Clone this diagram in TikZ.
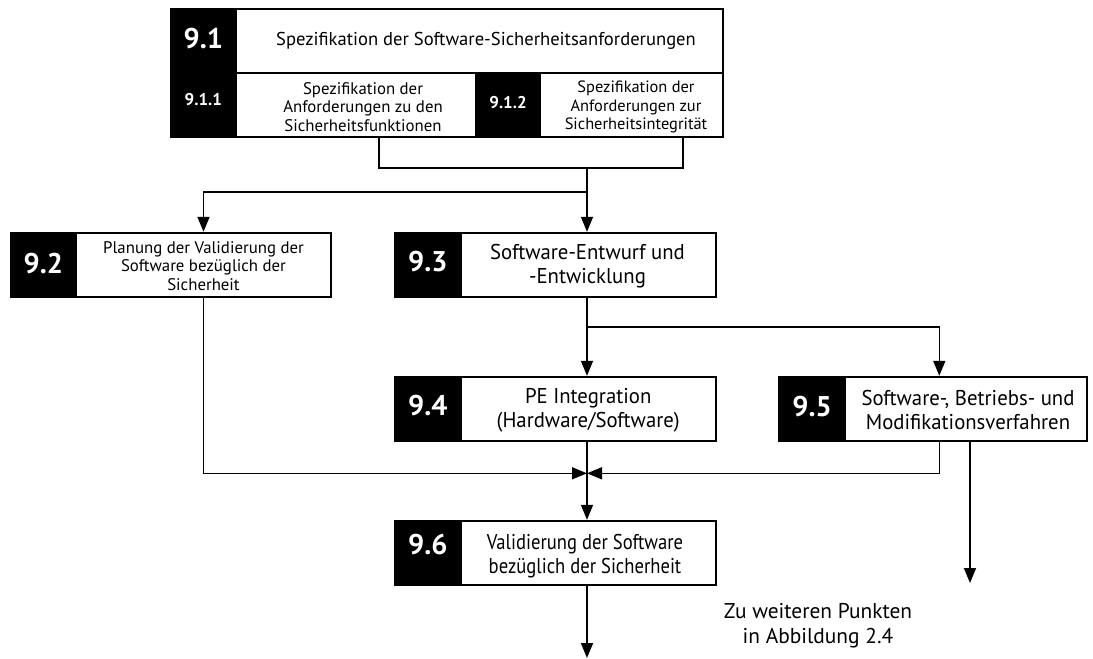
\documentclass[tikz,border=0pt]{standalone}
\usepackage{fontspec}
\setmainfont{PT Sans}
\newfontfamily\boxfont[FakeStretch=0.97]{PT Sans}
\newfontfamily\tightfont[FakeStretch=0.87]{PT Sans}
\usetikzlibrary{arrows.meta}

\tikzset{
  frame/.style={draw=black, fill=white, line width=1.8pt, inner sep=0pt},
  blackcol/.style={draw=black, fill=black, line width=1.8pt, inner sep=0pt},
  bignum/.style={text=white, inner sep=0pt, font=\fontsize{28.5}{30}\selectfont\bfseries},
  subnum/.style={text=white, inner sep=0pt, font=\fontsize{17}{20}\selectfont\bfseries},
  titletext/.style={inner sep=0pt, align=center, font=\fontsize{18.6}{22}\selectfont},
  smalltext/.style={inner sep=0pt, align=center, font=\fontsize{16.8}{18.5}\selectfont},
  bigtext/.style={inner sep=0pt, align=center, font=\fontsize{21.4}{24}\selectfont\boxfont},
  link/.style={line width=1.6pt},
  arr/.style={link, -{Triangle[length=15pt,width=12pt]}}
}

\begin{document}
\begin{tikzpicture}[x=1pt,y=-1pt]
\useasboundingbox (0,0) rectangle (1093,659);

% ---- 9.1 with its two sub-items ----
\node[frame, minimum width=552.3pt, minimum height=127.7pt] (b91) at (446.85,72.85) {};
\node[blackcol, minimum width=65.3pt, minimum height=127.7pt] (c91) at (203.35,72.85) {};
\coordinate (sep) at (0,72.7);
\draw[line width=1.8pt] (c91.east |- sep) -- (b91.east |- sep);
\node[blackcol, minimum width=64pt, minimum height=64pt] (c912) at (508,104.7) {};
\node[bignum] (n91) at (203.35,38.3) {9.1};
\node[subnum] (n911) at (203.35,100) {9.1.1};
\node[subnum] (n912) at (508,103) {9.1.2};
\node[titletext] (t91) at (486,40.8) {Spezifikation der Software-Sicherheitsanforderungen};
\node[smalltext] (t911) at (363,107) {Spezifikation der\\Anforderungen zu den\\Sicherheitsfunktionen};
\node[smalltext, font=\fontsize{16.4}{18.5}\selectfont] (t912) at (636,107) {Spezifikation der\\Anforderungen zur\\Sicherheitsintegrit\"at};

% ---- 9.2 ----
\node[frame, minimum width=320.3pt, minimum height=64pt] (b92) at (170.85,264.7) {};
\node[blackcol, minimum width=65.3pt, minimum height=64pt] (c92) at (43.35,264.7) {};
\node[bignum] (n92) at (43.35,263.3) {9.2};
\node[smalltext] (t92) at (203.5,266) {Planung der Validierung der\\Software bez\"uglich der\\Sicherheit};

% ---- 9.3 ----
\node[frame, minimum width=320.7pt, minimum height=64pt] (b93) at (555.35,264.7) {};
\node[blackcol, minimum width=65.7pt, minimum height=64pt] (c93) at (427.85,264.7) {};
\node[bignum] (n93) at (427.85,261.7) {9.3};
\node[bigtext] (t93) at (587.5,266) {Software-Entwurf und\\-Entwicklung};

% ---- 9.4 ----
\node[frame, minimum width=320.7pt, minimum height=64pt] (b94) at (555.35,408.7) {};
\node[blackcol, minimum width=65.7pt, minimum height=64pt] (c94) at (427.85,408.7) {};
\node[bignum] (n94) at (427.85,405.8) {9.4};
\node[bigtext] (t94) at (588.2,410.5) {PE Integration\\(Hardware/Software)};

% ---- 9.5 ----
\node[frame, minimum width=307.7pt, minimum height=64pt] (b95) at (933.15,408.7) {};
\node[blackcol, minimum width=65.7pt, minimum height=64pt] (c95) at (812.15,408.7) {};
\node[bignum] (n95) at (812.15,406.7) {9.5};
\node[bigtext] (t95) at (968,410.5) {Software-, Betriebs- und\\Modifikationsverfahren};

% ---- 9.6 ----
\node[frame, minimum width=320.7pt, minimum height=64.3pt] (b96) at (555.35,552.85) {};
\node[blackcol, minimum width=65.7pt, minimum height=64.3pt] (c96) at (427.85,552.85) {};
\node[bignum] (n96) at (427.85,545) {9.6};
\node[bigtext, font=\fontsize{21.4}{24}\selectfont\tightfont] (t96) at (585,556) {Validierung der Software\\bez\"uglich der Sicherheit};

% ---- note ----
\node[bigtext, font=\fontsize{21.4}{25}\selectfont] (note) at (818,625.5) {Zu weiteren Punkten\\in Abbildung 2.4};

% ---- connectors ----
\coordinate (j1) at (379,168);
\coordinate (j2) at (683,168);
\coordinate (j3) at (587,168);
\coordinate (j4) at (587,191.7);
\draw[link] (b91.south -| j1) -- (j1) -- (j2) -- (b91.south -| j2);
\draw[link] (j3) -- (j4);
\draw[arr] (j4) -| (b92.north -| t92);
\draw[arr] (j4) -- (b93.north -| j4);

\coordinate (j5) at (587,326.7);
\coordinate (j6) at (939.3,326.7);
\draw[link] (b93.south -| j5) -- (j5);
\draw[arr] (j5) -- (b94.north -| j5);
\draw[arr] (j5) -- (j6) -- (b95.north -| j6);

\coordinate (m) at (587,473.3);
\draw[arr] (b94.south -| m) -- (b96.north -| m);
\draw[arr] (b92.south -| t92) |- (m);
\draw[arr] (b95.south -| j6) |- (m);

\coordinate (j7) at (970,583);
\draw[arr] (b95.south -| j7) -- (j7);
\coordinate (j8) at (587,658);
\draw[arr] (b96.south -| j8) -- (j8);
\end{tikzpicture}
\end{document}
